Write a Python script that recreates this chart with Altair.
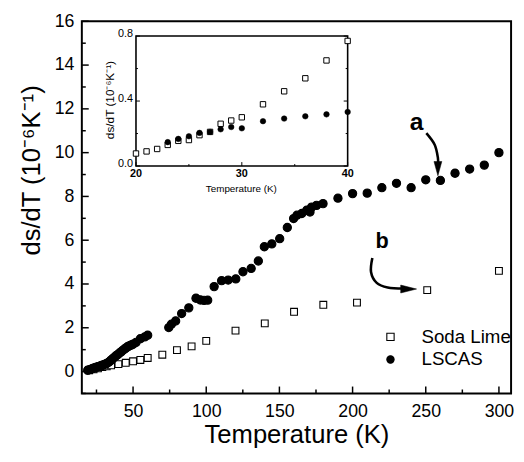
import altair as alt
import pandas as pd

FONT = "Liberation Sans"

# ---------------- main panel data ----------------
soda_T = [20, 23, 26, 29, 32, 35, 40, 45, 50, 55, 60, 70, 80, 90, 100, 120, 140, 160, 180, 203, 251, 300]
soda_v = [0.06, 0.10, 0.15, 0.20, 0.24, 0.28, 0.34, 0.40, 0.47, 0.53, 0.62, 0.77, 0.98, 1.15, 1.40,
          1.87, 2.20, 2.73, 3.05, 3.15, 3.72, 4.60]

lscas_T = [19, 20, 21, 22, 23, 24, 25, 26, 27, 28, 29, 30, 31, 32, 33, 34, 35, 36, 37, 38, 39, 40,
           41, 42, 43, 44, 45, 46, 47, 48, 49, 50, 52, 55, 58, 60,
           74.4, 76.2, 79.1, 83.2, 88.1, 93, 96, 98.5, 101, 105.4, 110.5, 115, 120.2, 125.1, 130.7,
           135.6, 139.7, 144.8, 150.2, 155.4, 159.7, 162, 165.3, 168.7, 170.9, 172, 175.4, 179.8,
           190, 200, 210, 220, 230, 240, 250, 260, 270, 280, 290, 300]
lscas_v = [0.06, 0.08, 0.10, 0.13, 0.15, 0.18, 0.20, 0.22, 0.24, 0.27, 0.29, 0.31, 0.34, 0.37, 0.41,
           0.46, 0.52, 0.58, 0.64, 0.70, 0.75, 0.80, 0.86, 0.91, 0.97, 1.02, 1.07, 1.12, 1.16, 1.19,
           1.22, 1.25, 1.33, 1.50, 1.58, 1.66,
           2.01, 2.16, 2.31, 2.65, 2.91, 3.35, 3.27, 3.25, 3.26, 3.88, 4.15, 4.18, 4.23, 4.56, 4.71,
           5.05, 5.70, 5.83, 6.07, 6.58, 6.99, 7.14, 7.22, 7.37, 7.29, 7.51, 7.59, 7.67,
           7.92, 8.13, 8.15, 8.40, 8.60, 8.40, 8.76, 8.73, 9.06, 9.25, 9.43, 10.0]

series_names = ["Soda Lime", "LSCAS"]

x_major = [50, 100, 150, 200, 250, 300]
x_minor = [25, 75, 125, 175, 225, 275]
y_major = [0, 2, 4, 6, 8, 10, 12, 14, 16]
y_minor = [-1, 1, 3, 5, 7, 9, 11, 13, 15]

# annotation arrows (data coordinates)
arrow_a_x = [250.4, 256.1, 258.3, 258.3]
arrow_a_y = [10.89, 10.36, 9.76, 9.45]
arrow_b_x = [213.5, 212.6, 216.5, 224.0, 234.8]
arrow_b_y = [5.19, 4.55, 4.05, 3.84, 3.79]
head_a = (258.3, 9.27)
head_b = (238.3, 3.77)
label_a = (243.7, 11.41, "a")
label_b = (220.2, 5.97, "b")

# ---------------- inset data ----------------
in_soda_T = [20, 21, 22, 23, 24, 25, 26, 27, 28, 29, 30, 32, 34, 36, 38, 40]
in_soda_v = [0.077, 0.09, 0.105, 0.13, 0.155, 0.16, 0.19, 0.21, 0.26, 0.28, 0.30, 0.38, 0.46, 0.54, 0.65, 0.77]
in_lscas_T = [23, 24, 25, 26, 27, 28, 29, 30, 32, 34, 36, 38, 40]
in_lscas_v = [0.147, 0.167, 0.183, 0.204, 0.21, 0.226, 0.24, 0.232, 0.276, 0.292, 0.306, 0.318, 0.333]
in_x_major = [20, 30, 40]
in_x_minor = [25, 35]
in_y_major = [0.0, 0.4, 0.8]
in_y_minor = [0.2, 0.6]
in_y_labels = ["0.0", "0.4", "0.8"]

# ---------------- scales & axes ----------------
xs = alt.Scale(domain=[15, 308.3], nice=False, zero=False)
ys = alt.Scale(domain=[-1, 16], nice=False, zero=False)

x_axis = alt.Axis(values=x_major, labelFontSize=18, labelFont=FONT, ticks=False, tickSize=0,
                  domain=False, grid=False, labelPadding=9, title="Temperature (K)",
                  titleFontSize=26, titleFont=FONT, titleFontWeight="normal", titlePadding=2,
                  labelColor="black", titleColor="black")
y_axis = alt.Axis(values=y_major, labelFontSize=18, labelFont=FONT, ticks=False, tickSize=0,
                  domain=False, grid=False, labelPadding=8, title="ds/dT (10⁻⁶K⁻¹)",
                  titleFontSize=26, titleFont=FONT, titleFontWeight="normal",
                  titleX=-51, titleY=151, titleAngle=270, titleAlign="center",
                  titleBaseline="middle", labelColor="black", titleColor="black")

legend = alt.Legend(orient="none", legendX=304, legendY=311, title=None,
                    labelFontSize=19, labelFont=FONT, symbolSize=55,
                    symbolStrokeColor="black", symbolStrokeWidth=1.1,
                    rowPadding=3, labelOffset=22, padding=0, labelColor="black")

fill_scale = alt.Scale(domain=series_names, range=["white", "black"])
shape_scale = alt.Scale(domain=series_names, range=["square", "circle"])
stroke_scale = alt.Scale(domain=series_names, range=["black", "black"])

def series_layer(name, T, v, size):
    df = pd.DataFrame({"series": [name] * len(T), "T": T, "v": v})
    return alt.Chart(df).mark_point(filled=True, strokeWidth=1.1, opacity=1, size=size).encode(
        x=alt.X("T:Q", scale=xs, axis=x_axis),
        y=alt.Y("v:Q", scale=ys, axis=y_axis),
        fill=alt.Fill("series:N", scale=fill_scale, legend=legend),
        shape=alt.Shape("series:N", scale=shape_scale, legend=legend),
        stroke=alt.Stroke("series:N", scale=stroke_scale, legend=legend),
    )

soda_pts = series_layer("Soda Lime", soda_T, soda_v, 48)
lscas_pts = series_layer("LSCAS", lscas_T, lscas_v, 70)

xmaj = alt.Chart(pd.DataFrame({"t": x_major})).mark_rule(color="black", strokeWidth=1.5).encode(
    x=alt.X("t:Q", scale=xs, axis=x_axis), y=alt.value(378), y2=alt.value(371))
xmin = alt.Chart(pd.DataFrame({"t": x_minor})).mark_rule(color="black", strokeWidth=1.5).encode(
    x=alt.X("t:Q", scale=xs, axis=x_axis), y=alt.value(378), y2=alt.value(374))
ymaj = alt.Chart(pd.DataFrame({"t": y_major})).mark_rule(color="black", strokeWidth=1.5).encode(
    y=alt.Y("t:Q", scale=ys, axis=y_axis), x=alt.value(0), x2=alt.value(7))
ymin = alt.Chart(pd.DataFrame({"t": y_minor})).mark_rule(color="black", strokeWidth=1.5).encode(
    y=alt.Y("t:Q", scale=ys, axis=y_axis), x=alt.value(0), x2=alt.value(4))

arr_df = pd.DataFrame({
    "ax": arrow_a_x + arrow_b_x,
    "ay": arrow_a_y + arrow_b_y,
    "g": ["a"] * len(arrow_a_x) + ["b"] * len(arrow_b_x),
    "i": list(range(len(arrow_a_x))) + list(range(len(arrow_b_x))),
})
arrows = alt.Chart(arr_df).mark_line(color="black", strokeWidth=2.6, interpolate="cardinal").encode(
    x=alt.X("ax:Q", scale=xs, axis=x_axis), y=alt.Y("ay:Q", scale=ys, axis=y_axis),
    detail="g:N", order="i:Q")
head_a_m = alt.Chart(pd.DataFrame({"hx": [head_a[0]], "hy": [head_a[1]]})).mark_point(
    shape="M-0.55,-1L0.55,-1L0,1Z", filled=True, fill="black", stroke="black", strokeWidth=0.5,
    size=210, opacity=1).encode(
    x=alt.X("hx:Q", scale=xs, axis=x_axis), y=alt.Y("hy:Q", scale=ys, axis=y_axis))
head_b_m = alt.Chart(pd.DataFrame({"hx": [head_b[0]], "hy": [head_b[1]]})).mark_point(
    shape="M-1,-0.5L1,0L-1,0.5Z", filled=True, fill="black", stroke="black", strokeWidth=0.5,
    size=260, opacity=1).encode(
    x=alt.X("hx:Q", scale=xs, axis=x_axis), y=alt.Y("hy:Q", scale=ys, axis=y_axis))
lab_df = pd.DataFrame({"lx": [label_a[0], label_b[0]], "ly": [label_a[1], label_b[1]],
                       "txt": [label_a[2], label_b[2]], "fs": [25, 22]})
labels_ab = alt.Chart(lab_df).mark_text(font=FONT, fontWeight="bold", color="black",
                                        align="center", baseline="middle").encode(
    x=alt.X("lx:Q", scale=xs, axis=x_axis), y=alt.Y("ly:Q", scale=ys, axis=y_axis),
    text="txt:N", size=alt.Size("fs:Q", scale=None, legend=None))

main = alt.layer(soda_pts, lscas_pts, xmaj, xmin, ymaj, ymin, arrows, head_a_m, head_b_m, labels_ab)

# ---------------- inset ----------------
ixs = alt.Scale(domain=[20, 40], range=[55, 270], nice=False, zero=False)
iys = alt.Scale(domain=[0, 0.8], range=[147, 15], nice=False, zero=False)

frame = alt.Chart(pd.DataFrame({"x0": [20], "x1": [40], "y0": [0.0], "y1": [0.8]})).mark_rect(
    fill="white", stroke="black", strokeWidth=1.6).encode(
    x=alt.X("x0:Q", scale=ixs, axis=None), x2="x1:Q",
    y=alt.Y("y0:Q", scale=iys, axis=None), y2="y1:Q")

in_sq = alt.Chart(pd.DataFrame({"T": in_soda_T, "v": in_soda_v})).mark_point(
    shape="square", filled=True, fill="white", stroke="black", strokeWidth=1, size=30, opacity=1).encode(
    x=alt.X("T:Q", scale=ixs, axis=None), y=alt.Y("v:Q", scale=iys, axis=None))
in_ci = alt.Chart(pd.DataFrame({"T": in_lscas_T, "v": in_lscas_v})).mark_point(
    shape="circle", filled=True, fill="black", stroke="black", strokeWidth=0.5, size=32, opacity=1).encode(
    x=alt.X("T:Q", scale=ixs, axis=None), y=alt.Y("v:Q", scale=iys, axis=None))

def irule_x(vals, length):
    return alt.Chart(pd.DataFrame({"t": vals})).mark_rule(color="black", strokeWidth=1).encode(
        x=alt.X("t:Q", scale=ixs, axis=None), y=alt.value(147), y2=alt.value(147 - length))

def irule_y(vals, x0, x1):
    return alt.Chart(pd.DataFrame({"t": vals})).mark_rule(color="black", strokeWidth=1).encode(
        y=alt.Y("t:Q", scale=iys, axis=None), x=alt.value(x0), x2=alt.value(x1))

in_ticks = [
    irule_x(in_x_major, 4), irule_x(in_x_minor, 2),
    irule_y(in_y_major, 55, 59), irule_y(in_y_minor, 55, 57),
    irule_y(in_y_major, 270, 266), irule_y(in_y_minor, 270, 268),
]

in_xlab = alt.Chart(pd.DataFrame({"t": in_x_major, "s": [str(v) for v in in_x_major]})).mark_text(
    font=FONT, fontSize=11, fontWeight="bold", color="black", baseline="top", align="center", dy=1).encode(
    x=alt.X("t:Q", scale=ixs, axis=None), y=alt.value(148), text="s:N")
in_ylab = alt.Chart(pd.DataFrame({"t": in_y_major, "s": in_y_labels})).mark_text(
    font=FONT, fontSize=11, color="black", baseline="middle", align="right", dy=-2).encode(
    y=alt.Y("t:Q", scale=iys, axis=None), x=alt.value(52), text="s:N")
in_xtitle = alt.Chart(pd.DataFrame({"s": ["Temperature (K)"]})).mark_text(
    font=FONT, fontSize=10, color="black", baseline="middle", align="center").encode(
    x=alt.value(162), y=alt.value(170), text="s:N")
in_ytitle = alt.Chart(pd.DataFrame({"s": ["ds/dT (10⁻⁶K⁻¹)"]})).mark_text(
    font=FONT, fontSize=12, color="black", baseline="middle", align="center", angle=270).encode(
    x=alt.value(29), y=alt.value(80), text="s:N")

inset = alt.layer(frame, *in_ticks, in_sq, in_ci, in_xlab, in_ylab, in_xtitle, in_ytitle)

chart = alt.layer(main, inset).resolve_scale(
    x="independent", y="independent"
).properties(
    width=436, height=378,
    padding={"left": 75, "top": 10, "right": 5, "bottom": 58},
    autosize=alt.AutoSizeParams(type="none"),
).configure(font=FONT).configure_view(stroke="black", strokeWidth=2)

chart.save("out.html", embed_options={"renderer": "svg", "actions": False})
